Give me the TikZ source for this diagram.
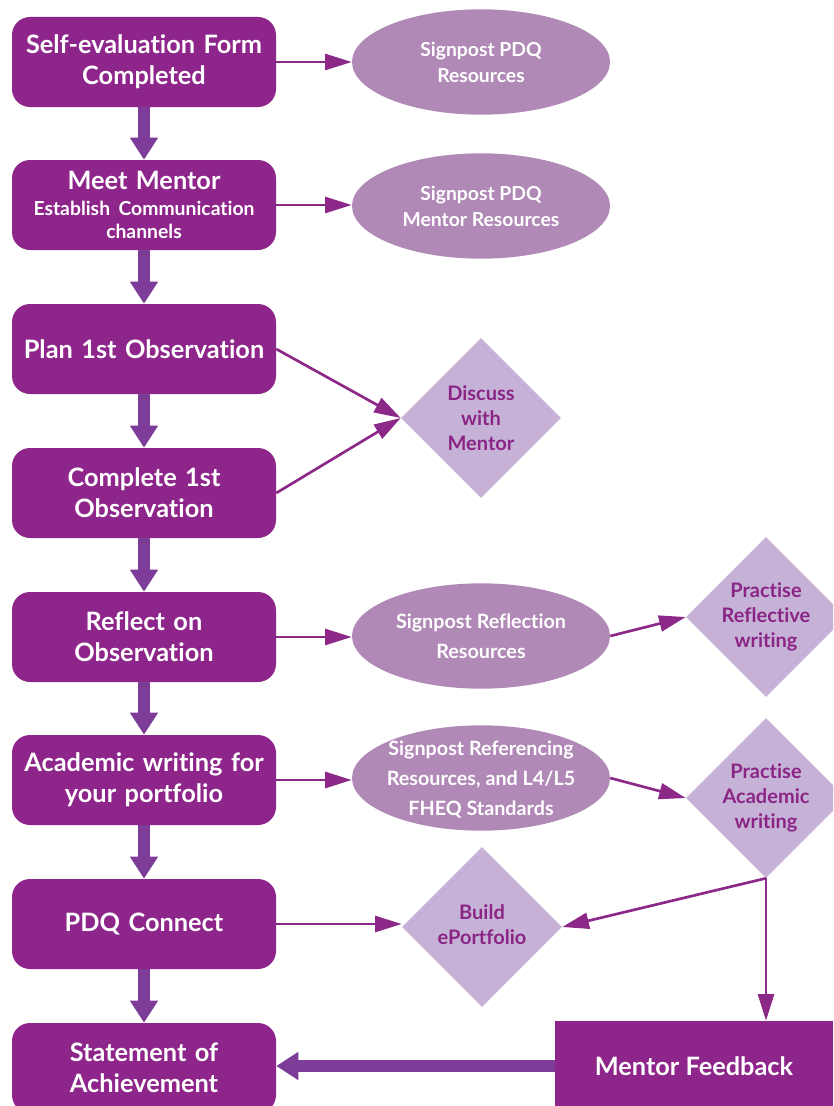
\documentclass[tikz,border=0pt]{standalone}
\usepackage{fontspec}
\setmainfont{Lato}[Ligatures={NoCommon,NoContextual}]
\usetikzlibrary{shapes.geometric,arrows.meta}
\definecolor{boxc}{HTML}{8E258B}
\definecolor{arrc}{HTML}{7D3C98}
\definecolor{ellc}{HTML}{B189B7}
\definecolor{diac}{HTML}{C7B2D7}
\definecolor{diatextc}{HTML}{8A2585}
\definecolor{linec}{HTML}{8B2888}
\begin{document}
\begin{tikzpicture}[x=0.75pt,y=-0.75pt,
  stepbox/.style={rectangle, rounded corners=13.5pt, fill=boxc, text=white,
    minimum width=198pt, minimum height=67.5pt, text width=197pt, align=center,
    font=\bfseries\fontsize{19}{23.5}\selectfont, inner sep=0pt},
  ell/.style={ellipse, fill=ellc, minimum width=193.5pt, minimum height=79pt, inner sep=0pt},
  elltext/.style={text=white, align=center, font=\bfseries\fontsize{14.5}{19.5}\selectfont},
  elltextb/.style={text=white, align=center, font=\bfseries\fontsize{14.8}{22.5}\selectfont},
  dia/.style={diamond, fill=diac, minimum width=120pt, minimum height=120pt, inner sep=0pt, aspect=1},
  diatext/.style={text=diatextc, align=center, font=\bfseries\fontsize{15}{19}\selectfont},
  fbbox/.style={rectangle, fill=boxc, text=white, minimum width=208.5pt, minimum height=67.5pt,
    inner sep=0pt, font=\bfseries\fontsize{19}{24}\selectfont},
  bigarrow/.style={draw=arrc, line width=9.5pt, -{Triangle[length=16.5pt,width=20pt]}},
  thinarrow/.style={draw=linec, line width=2pt, -{Triangle[length=20pt,width=12pt]}}
]
\clip (0,0) rectangle (833,1106);

% left column
\node[stepbox] (b1) at (144,62) {Self-evaluation Form\\Completed};
\node[stepbox] (b2) at (144,205) {Meet Mentor\\[-4pt]{\fontsize{14.5}{18}\selectfont Establish Communication}\\[-6pt]{\fontsize{14.5}{18}\selectfont channels}};
\node[stepbox] (b3) at (144,349) {Plan 1st Observation};
\node[stepbox] (b4) at (144,493) {Complete 1st\\Observation};
\node[stepbox] (b5) at (144,637) {Reflect on\\Observation};
\node[stepbox] (b6) at (144,780) {Academic writing for\\your portfolio};
\node[stepbox] (b7) at (144,924) {PDQ Connect};
\node[stepbox] (b8) at (144,1068) {Statement of\\Achievement};

% ellipses
\node[ell, label={[elltext]center:Signpost PDQ\\Resources}] (e1) at (481,62) {};
\node[ell, label={[elltext]center:Signpost PDQ\\Mentor Resources}] (e2) at (481,206) {};
\node[ell, label={[elltextb]center:Signpost Reflection\\Resources}] (e3) at (481,636) {};
\node[ell, label={[elltextb,yshift=-1.5pt]center:Signpost Referencing\\Resources, and L4/L5\\FHEQ Standards}] (e4) at (481,778) {};

% diamonds
\node[dia, label={[diatext]center:Discuss\\with\\Mentor}] (d1) at (481,418) {};
\node[dia, label={[diatext]center:Practise\\Reflective\\writing}] (d2) at (766,617) {};
\node[dia, label={[diatext]center:Practise\\Academic\\writing}] (d3) at (766,798) {};
\node[dia, label={[diatext,yshift=2pt]center:Build\\ePortfolio}] (d4) at (482,927) {};

% mentor feedback
\node[fbbox] (fb) at (694,1066) {Mentor Feedback};

% thick arrows
\draw[bigarrow] (b1.south) -- (b2.north);
\draw[bigarrow] (b2.south) -- (b3.north);
\draw[bigarrow] (b3.south) -- (b4.north);
\draw[bigarrow] (b4.south) -- (b5.north);
\draw[bigarrow] (b5.south) -- (b6.north);
\draw[bigarrow] (b6.south) -- (b7.north);
\draw[bigarrow] (b7.south) -- (b8.north);
\draw[bigarrow] (fb.west) -- (fb.west -| b8.east);

% thin arrows
\draw[thinarrow] (b1.east) -- (b1.east -| e1.west);
\draw[thinarrow] (b2.east) -- (b2.east -| e2.west);
\draw[thinarrow] (b3.east) -- (d1.west);
\draw[thinarrow] (b4.east) -- (d1.west);
\draw[thinarrow] (b5.east) -- (b5.east -| e3.west);
\draw[thinarrow] (e3.east) -- (d2.west);
\draw[thinarrow] (b6.east) -- (b6.east -| e4.west);
\draw[thinarrow] (e4.east) -- (d3.west);
\draw[thinarrow] (b7.east) -- (b7.east -| d4.west);
\draw[thinarrow] (d3.south) -- (d4.east);
\draw[thinarrow] (d3.south) -- (d3.south |- fb.north);
\end{tikzpicture}
\end{document}
